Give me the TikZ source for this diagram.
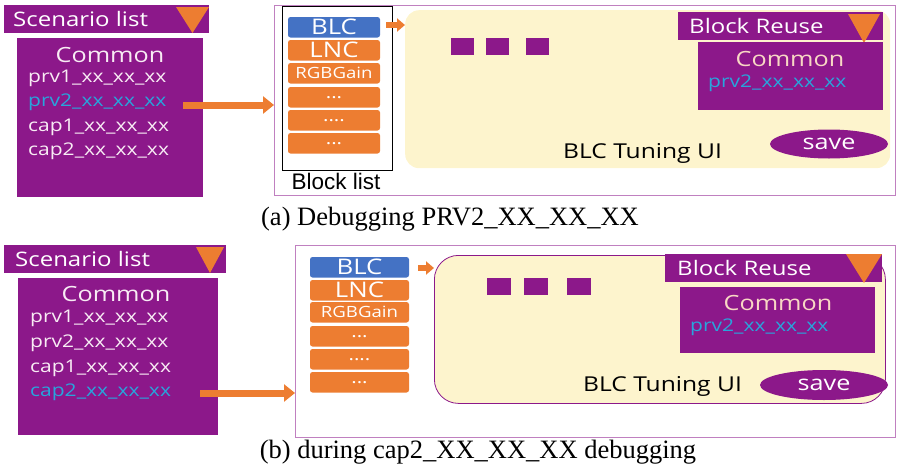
\documentclass[tikz,border=0pt]{standalone}
\usepackage{fontspec}
\setmainfont{Liberation Serif}
\newfontfamily\uifont[FakeStretch=1.2]{Open Sans}
\newfontfamily\arialfont{Liberation Sans}
\usetikzlibrary{shapes.geometric,arrows.meta}
\definecolor{upurple}{RGB}{140,24,138}
\definecolor{uorange}{RGB}{237,125,49}
\definecolor{ublue}{RGB}{68,114,196}
\definecolor{ucream}{RGB}{253,244,205}
\definecolor{ucyan}{RGB}{40,165,220}
\definecolor{uframe}{RGB}{192,128,192}
\definecolor{ulight}{RGB}{248,236,244}
\definecolor{upeach}{RGB}{248,216,196}
\tikzset{
  pbox/.style={fill=upurple, draw=none, inner sep=0pt, outer sep=0pt, anchor=north west},
  hdrtext/.style={anchor=west, inner sep=0pt, text=white, font=\uifont\fontsize{20}{20}\selectfont},
  itemtext/.style={anchor=west, inner sep=0pt, text=ulight, font=\uifont\fontsize{17.5}{17.5}\selectfont},
  commontext/.style={anchor=center, inner sep=0pt, text=ulight, font=\uifont\fontsize{21}{21}\selectfont},
  blk/.style={fill=uorange, rounded corners=2.5pt, minimum width=92pt, minimum height=20.5pt, inner sep=0pt, outer sep=0pt, anchor=north west, text=white, font=\uifont\fontsize{21.5}{21.5}\selectfont},
  smalltxt/.style={font=\uifont\fontsize{15.5}{15.5}\selectfont},
  dottxt/.style={font=\uifont\fontsize{17}{17}\selectfont},
  sq/.style={fill=upurple, minimum width=23pt, minimum height=17pt, inner sep=0pt, anchor=north west},
  panel/.style={draw=uframe, line width=1.2pt, inner sep=0pt, anchor=north west},
  bigarrow/.style={draw=uorange, line width=7pt, -{Triangle[length=11pt,width=17pt]}},
  smallarrow/.style={draw=uorange, line width=6pt, -{Triangle[length=8pt,width=13pt]}},
  savebtn/.style={ellipse, fill=upurple, inner sep=0pt, text=white, font=\uifont\fontsize{21}{21}\selectfont},
  uilabel/.style={inner sep=0pt, anchor=west, text=black, font=\uifont\fontsize{20.5}{20.5}\selectfont},
  caption/.style={inner sep=0pt, font=\fontsize{26.5}{26.5}\selectfont},
}
\newcommand{\lowdots}[1]{\raisebox{-3.5pt}{#1}}
\begin{document}
\begin{tikzpicture}[x=1pt,y=-1pt]
\useasboundingbox (0,0) rectangle (898,474);
% ---------------- panel (a) ----------------
\node[pbox, minimum width=205pt, minimum height=28pt] (scnHdrA) at (4,5) {};
\node[hdrtext] (scnTxtA) at (13,19) {Scenario list};
\fill[uorange] (176,7) -- (209,7) -- (192.5,33) -- cycle;
\node[pbox, minimum width=186pt, minimum height=159pt] (scnBodyA) at (17,38) {};
\node[commontext] (comA) at (110,55) {Common};
\node[itemtext] (a1) at (28,78) {prv1\_xx\_xx\_xx};
\node[itemtext, text=ucyan] (a2) at (28,102) {prv2\_xx\_xx\_xx};
\node[itemtext] (a3) at (28,127) {cap1\_xx\_xx\_xx};
\node[itemtext] (a4) at (28,151) {cap2\_xx\_xx\_xx};
\node[panel, minimum width=621pt, minimum height=190pt] (panelA) at (274,5) {};
\coordinate (arrA) at (183,105);
\draw[bigarrow] (arrA) -- (arrA -| panelA.west);
\node[draw=black, line width=1.2pt, minimum width=110pt, minimum height=164pt, inner sep=0pt, anchor=north west] (blistA) at (282,6) {};
\node[inner sep=0pt, anchor=center, font=\arialfont\fontsize{22.5}{22.5}\selectfont] (blistTxtA) at (336,181) {Block list};
\node[blk, fill=ublue] (blcA) at (288,17) {BLC};
\node[blk] (lncA) at (288,40) {LNC};
\node[blk, smalltxt] (rgbA) at (288,63) {RGBGain};
\node[blk, dottxt] (d1A) at (288,87) {\lowdots{...}};
\node[blk, dottxt] (d2A) at (288,110) {\lowdots{....}};
\node[blk, dottxt] (d3A) at (288,133) {\lowdots{...}};
\node[fill=ucream, rounded corners=14pt, minimum width=485pt, minimum height=158pt, inner sep=0pt, anchor=north west] (uiA) at (405,10) {};
\draw[smallarrow] (386,25) -- (uiA.west |- 386,25);
\node[sq] (s1A) at (451,38) {};
\node[sq] (s2A) at (486,38) {};
\node[sq] (s3A) at (526,38) {};
\node[pbox, minimum width=205pt, minimum height=28pt] (reuHdrA) at (678,12) {};
\node[hdrtext] (reuTxtA) at (689,26) {Block Reuse};
\fill[uorange] (848,14) -- (880,14) -- (864,43) -- cycle;
\node[pbox, minimum width=185pt, minimum height=68pt] (reuBodyA) at (698,42) {};
\node[commontext, text=upeach] (reuComA) at (790,59) {Common};
\node[itemtext, text=ucyan] (reuItemA) at (708,83) {prv2\_xx\_xx\_xx};
\node[uilabel] (tuneA) at (563,153) {BLC Tuning UI};
\node[savebtn, minimum width=118pt, minimum height=29pt] (saveA) at (829,144) {save};
\node[caption] (capA) at (450,219) {(a) Debugging PRV2\_XX\_XX\_XX};
% ---------------- panel (b) ----------------
\node[pbox, minimum width=222pt, minimum height=28pt] (scnHdrB) at (4,245) {};
\node[hdrtext] (scnTxtB) at (15,259) {Scenario list};
\fill[uorange] (196,247) -- (224,247) -- (210,273) -- cycle;
\node[pbox, minimum width=200pt, minimum height=157pt] (scnBodyB) at (18,278) {};
\node[commontext] (comB) at (116,294) {Common};
\node[itemtext] (b1) at (30,318) {prv1\_xx\_xx\_xx};
\node[itemtext] (b2) at (30,343) {prv2\_xx\_xx\_xx};
\node[itemtext] (b3) at (30,368) {cap1\_xx\_xx\_xx};
\node[itemtext, text=ucyan] (b4) at (30,392) {cap2\_xx\_xx\_xx};
\node[panel, minimum width=600pt, minimum height=192pt] (panelB) at (295,245) {};
\coordinate (arrB) at (200,393);
\draw[bigarrow] (arrB) -- (arrB -| panelB.west);
\node[blk, fill=ublue, minimum width=99pt] (blcB) at (310,257) {BLC};
\node[blk, minimum width=99pt] (lncB) at (310,280) {LNC};
\node[blk, minimum width=99pt, smalltxt] (rgbB) at (310,302) {RGBGain};
\node[blk, minimum width=99pt, dottxt] (d1B) at (310,326) {\lowdots{...}};
\node[blk, minimum width=99pt, dottxt] (d2B) at (310,349) {\lowdots{....}};
\node[blk, minimum width=99pt, dottxt] (d3B) at (310,372) {\lowdots{...}};
\node[fill=ucream, draw=upurple, line width=0.8pt, rounded corners=24pt, minimum width=451pt, minimum height=148pt, inner sep=0pt, anchor=north west] (uiB) at (434,255) {};
\draw[smallarrow] (418,268) -- (uiB.west |- 418,268);
\node[sq, minimum width=24pt] (s1B) at (487,278) {};
\node[sq, minimum width=24pt] (s2B) at (524,278) {};
\node[sq, minimum width=24pt] (s3B) at (567,278) {};
\node[pbox, minimum width=217pt, minimum height=28pt] (reuHdrB) at (665,254) {};
\node[hdrtext] (reuTxtB) at (677,268) {Block Reuse};
\fill[uorange] (846,254) -- (882,254) -- (864,283) -- cycle;
\node[pbox, minimum width=195pt, minimum height=66pt] (reuBodyB) at (680,287) {};
\node[commontext, text=upeach] (reuComB) at (778,303) {Common};
\node[itemtext, text=ucyan] (reuItemB) at (690,327) {prv2\_xx\_xx\_xx};
\node[uilabel] (tuneB) at (583,386) {BLC Tuning UI};
\node[savebtn, minimum width=128pt, minimum height=30pt] (saveB) at (824,385) {save};
\node[caption] (capB) at (478,452) {(b) during cap2\_XX\_XX\_XX debugging};
\end{tikzpicture}
\end{document}
